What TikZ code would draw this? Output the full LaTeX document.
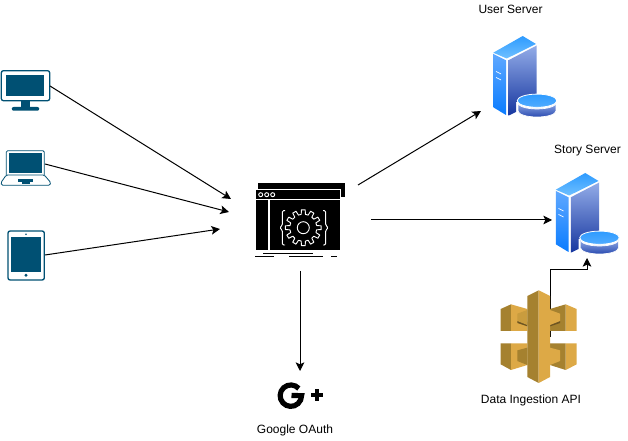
\documentclass[tikz,border=0pt]{standalone}
\usepackage{fontspec}
\setmainfont{Liberation Sans}
\usetikzlibrary{arrows.meta,calc}
\definecolor{devblue}{HTML}{005073}
\definecolor{goldL}{HTML}{DDA946}
\definecolor{goldM}{HTML}{C99C3E}
\definecolor{goldD}{HTML}{A5812F}
\definecolor{goldS}{HTML}{6E5522}
\definecolor{srvA}{HTML}{2E9BFF}
\definecolor{srvB}{HTML}{6FC0FF}
\definecolor{srvC}{HTML}{5FA8FF}
\definecolor{srvD}{HTML}{0A7CFF}
\definecolor{srvE}{HTML}{93ACE8}
\definecolor{srvF}{HTML}{16369F}
\definecolor{srvG}{HTML}{8FA9E6}
\definecolor{srvH}{HTML}{2A4BB0}
\tikzset{
  conn/.style={draw=black,line width=0.75pt,-{Stealth[length=6.5pt,width=6.5pt,inset=1.5pt]}},
  lbl/.style={font=\fontsize{9pt}{11pt}\selectfont,text=black,inner sep=0pt},
  devline/.style={draw=devblue,line width=1pt,rounded corners=1.6pt},
  devfill/.style={fill=devblue,draw=none},
  wl/.style={draw=white,line width=0.7pt},
  server/.pic={
    \shade[top color=srvA,bottom color=srvB] (493.3,52.7)--(522.7,36)--(536,44)--(506.7,58.5)--cycle;
    \shade[top color=srvC,bottom color=srvD] (493.3,54)--(506,60.3)--(506,115)--(493.3,107.3)--cycle;
    \shade[top color=srvE,bottom color=srvF] (508.3,60.3)--(536.7,45.5)--(536.7,97)--(516,102)--(516,112)--(508.3,115.7)--cycle;
    \draw[draw=white,line width=0.5pt] (496,71.5)--(501,74) (496,77.5)--(501,80);
    \shade[top color=srvG,bottom color=srvH,draw=white,line width=0.5pt] (518.1,103) arc[start angle=180,end angle=0,x radius=18.9,y radius=6] -- (555.9,111) arc[start angle=0,end angle=180,x radius=18.9,y radius=6] -- cycle;
    \shade[top color=srvA,bottom color=srvB!70!srvD,draw=white,line width=0.6pt] (537,100.7) ellipse[x radius=19.8,y radius=6.6];
  },
}
\begin{document}
\begin{tikzpicture}[x=0.75pt,y=-0.75pt]
\useasboundingbox (0,0) rectangle (628,441);
\fill[white] (0,0) rectangle (628,441);
% connector ends
\coordinate (monitorOut) at (50,86);
\coordinate (laptopOut) at (45,164);
\coordinate (tabletOut) at (45,255);
\coordinate (hubA) at (231,199);
\coordinate (hubB) at (229,212);
\coordinate (hubC) at (220,229);
\coordinate (hubUser) at (358,185);
\coordinate (hubStory) at (371,220);
\coordinate (hubOauth) at (300,271);
\coordinate (userIn) at (481,111);
\coordinate (storyIn) at (552,220);
\coordinate (oauthIn) at (300,371);
\coordinate (apiOut) at (550,337);
\coordinate (storyDisk) at (587,258);
% monitor
\draw[devline] (1.3,70.7) rectangle (49.7,100.7);
\fill[devfill] (6.3,75.3) rectangle (44.3,96);
\fill[devfill] (21,100.7) rectangle (30.3,107);
\fill[devfill,rounded corners=1.5pt] (11.7,107) rectangle (39.3,110.7);
% laptop
\draw[draw=devblue,line width=0.6pt,rounded corners=1pt] (6.3,175)--(6.3,150.7)--(44.3,150.7)--(44.3,175);
\fill[devfill] (9,153.3) rectangle (42,173.3);
\draw[draw=devblue,line width=0.6pt,rounded corners=1pt] (6.3,175)--(1,182.5)--(1.5,185.3)--(50,185.3)--(50.7,182.5)--(44.3,175)--cycle;
\fill[devfill] (17.7,179.3) rectangle (33.3,182);
\fill[devfill] (21.7,182) rectangle (30,184);
% tablet
\draw[devline] (8,231) rectangle (44.3,280);
\fill[devfill] (11,237) rectangle (41.3,271.7);
\fill[devfill] (26,234.3) circle[radius=0.8];
\fill[devfill] (26,275.3) circle[radius=1.7];
% hub icon
\fill[black] (258,182.7) rectangle (345,197.3);
\fill[black] (256,189.3) rectangle (340,250);
\draw[white,line width=0.6pt] (255.5,189.3) -- (340.5,189.3) -- (340.5,250);
\draw[white,line width=0.8pt] (256,199.7)--(340,199.7) (269,199.7)--(269,250);
\foreach \cx in {260.7,266.7,272.7} \draw[wl] (\cx,194.7) circle[radius=2];
\draw[wl] (303.3,227.7) circle[radius=6];
\draw[wl,line join=round]
  \foreach \a [count=\i from 0] in {0,30,...,330} {
    ($(303.3,227.7)+(\a-9:13.5)$) \ifnum\i=0 \else -- ($(303.3,227.7)+(\a-9:13.5)$) \fi
    -- ($(303.3,227.7)+(\a-6:18)$) -- ($(303.3,227.7)+(\a+6:18)$) -- ($(303.3,227.7)+(\a+9:13.5)$)
    -- ($(303.3,227.7)+(\a+21:13.5)$)
  };
\draw[wl,rounded corners=1pt] (285,210.7)--(282.3,210.7)--(282.3,225.5)--(279.5,227.7)--(282.3,230)--(282.3,245)--(285,245);
\draw[wl,rounded corners=1pt] (323,210.7)--(325.7,210.7)--(325.7,225.5)--(328.5,227.7)--(325.7,230)--(325.7,245)--(323,245);
\draw[black,line width=0.9pt] (263.3,253.5)--(312.7,253.5) (255.3,256.7)--(274,256.7) (289.3,256.7)--(323.3,256.7) (331,256.7)--(336.7,256.7);
% Google plus
\draw[black,line width=3.9pt] (298.8,388.5) arc[start angle=-42,end angle=-360,radius=10.7] -- (291.5,395.5);
\fill[black] (314.5,388.7) rectangle (319,401.3);
\fill[black] (310.5,392.8) rectangle (323,397.2);
% servers
\pic at (0,0) {server};
\pic at (62.5,137) {server};
% connectors
\draw[conn] (monitorOut) -- (hubA);
\draw[conn] (laptopOut) -- (hubB);
\draw[conn] (tabletOut) -- (hubC);
\draw[conn] (hubUser) -- (userIn);
\draw[conn] (hubStory) -- (storyIn);
\draw[conn] (hubOauth) -- (oauthIn);
\draw[conn] (apiOut) -- (550,270) -- (587,270) -- (storyDisk);
% API gateway
\begin{scope}[shift={(495,285)},x=0.25pt,y=-0.25pt]
% upper left
\fill[goldD] (17,72)--(48,58)--(48,138)--(17,138)--cycle;
\fill[goldL] (48,58)--(97,72)--(97,138)--(48,138)--cycle;
\fill[goldS] (67,108)--(97,110)--(97,124)--(67,114)--cycle;
\fill[goldM] (67,86)--(97,75)--(97,120)--(67,108)--cycle;
% lower left
\fill[goldD] (17,175)--(48,175)--(48,255)--(17,238)--cycle;
\fill[goldL] (48,175)--(97,175)--(97,240)--(48,255)--cycle;
\fill[goldD] (67,196)--(97,188)--(97,240)--(67,228)--cycle;
% upper right
\fill[goldL] (212,58)--(245,72)--(245,138)--(212,138)--cycle;
\fill[goldD] (165,72)--(212,58)--(212,138)--(165,138)--cycle;
\fill[goldS] (195,108)--(165,110)--(165,124)--(195,114)--cycle;
\fill[goldL] (195,86)--(165,75)--(165,120)--(195,108)--cycle;
% lower right
\fill[goldL] (212,175)--(245,175)--(245,238)--(212,255)--cycle;
\fill[goldD] (165,175)--(212,175)--(212,255)--(165,240)--cycle;
\fill[goldL] (195,196)--(165,188)--(165,240)--(195,228)--cycle;
% column
\fill[goldD] (97,33)--(131,16)--(131,294)--(97,276)--cycle;
\fill[goldL] (131,16)--(165,33)--(165,276)--(131,294)--cycle;
\end{scope}
% labels
\node[lbl] (userLbl) at (510.5,9) {User Server};
\node[lbl] (storyLbl) at (587.5,151) {Story Server};
\node[lbl] (apiLbl) at (531,400) {Data Ingestion API};
\node[lbl] (oauthLbl) at (295,430) {Google OAuth};
\end{tikzpicture}
\end{document}
